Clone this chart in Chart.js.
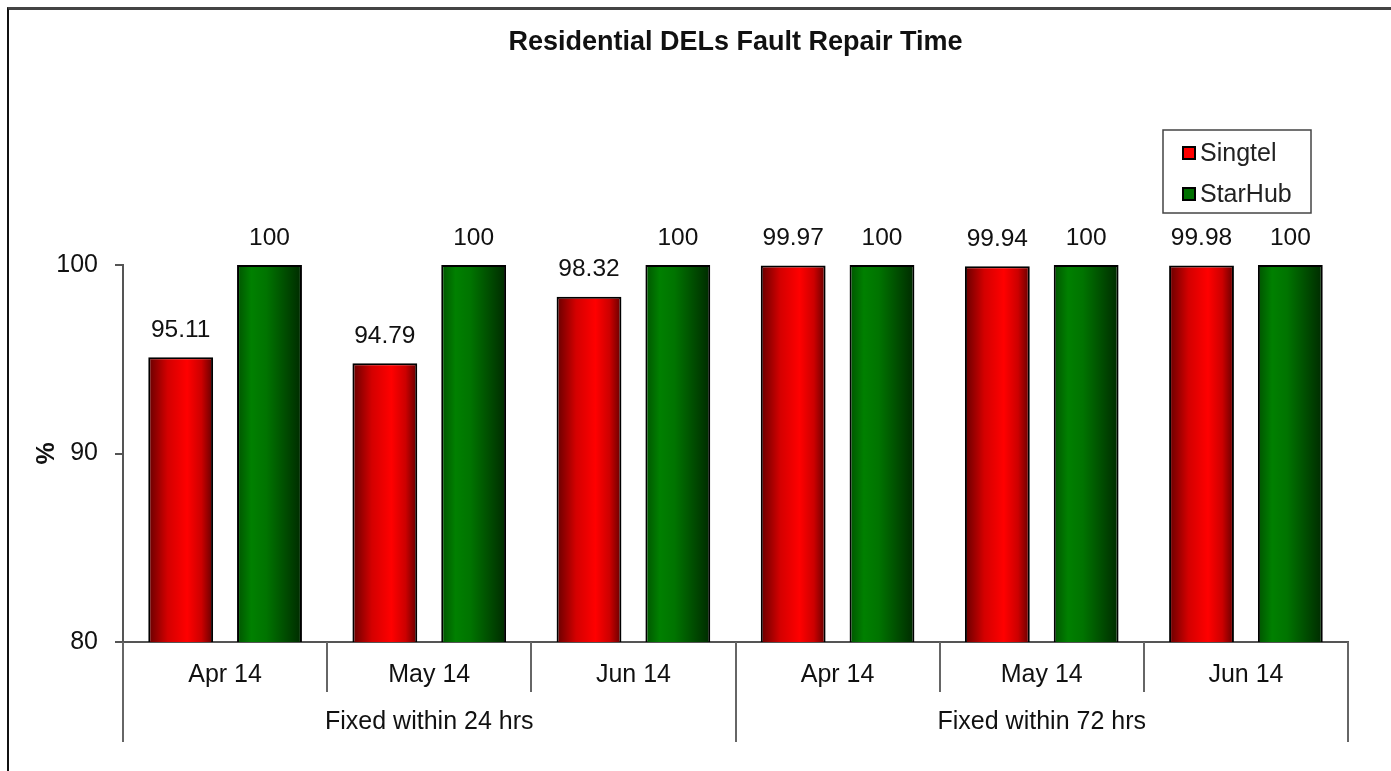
<!DOCTYPE html>
<html>
<head>
<meta charset="utf-8">
<script src="https://cdn.jsdelivr.net/npm/chart.js@4/dist/chart.umd.min.js"></script>
<style>
  body { margin: 0; background: #fff; overflow: hidden; }
  #wrap { position: relative; width: 1391px; height: 771px; }
  #frame { position: absolute; left: 7px; top: 7px; right: -10px; bottom: -10px;
           border-left: 2px solid #111; border-top: 3px solid #444; pointer-events: none; }
</style>
</head>
<body>
<div id="wrap">
  <canvas id="chart"></canvas>
  <div id="frame"></div>
</div>
<script>
// data
const groups = ['Fixed within 24 hrs', 'Fixed within 72 hrs'];
const months = ['Apr 14', 'May 14', 'Jun 14'];
const singtel = [95.11, 94.79, 98.32, 99.97, 99.94, 99.98];
const starhub = [100, 100, 100, 100, 100, 100];
const yTicks = [80, 90, 100];

const labels = groups.flatMap(() => months);
const CAT_PCT = 0.87, BAR_PCT = 0.73;
const FONT = 'Arial, "Liberation Sans", sans-serif';

// horizontal shading like the Excel bars
const shades = {
  red:   [[0, '#660000'], [0.3, '#d40000'], [0.6, '#ff0000'], [0.82, '#cc0000'], [1, '#640000']],
  green: [[0, '#005400'], [0.22, '#008000'], [0.45, '#007400'], [1, '#002a00']]
};

function barFill(name, flat) {
  return ctx => {
    const chart = ctx.chart, x = chart.scales.x;
    if (!chart.chartArea || ctx.dataIndex == null || !x || !isFinite(x.left)) return flat;
    const catW = (x.right - x.left) / labels.length;
    const slot = catW * CAT_PCT / 2;
    const c = x.getPixelForValue(ctx.dataIndex) + (ctx.datasetIndex - 0.5) * slot;
    const w = slot * BAR_PCT;
    const g = chart.ctx.createLinearGradient(c - w / 2, 0, c + w / 2, 0);
    shades[name].forEach(([o, col]) => g.addColorStop(o, col));
    return g;
  };
}

// value labels above bars
const valueLabels = {
  id: 'valueLabels',
  afterDatasetsDraw(chart) {
    const c = chart.ctx;
    c.save();
    c.font = '24.5px ' + FONT;
    c.fillStyle = '#111';
    c.textAlign = 'center';
    c.textBaseline = 'middle';
    chart.data.datasets.forEach((ds, di) => {
      chart.getDatasetMeta(di).data.forEach((bar, i) => {
        c.fillText(String(ds.data[i]), bar.x, bar.y - 27);
      });
    });
    c.restore();
  }
};

// category separators + group labels under the x axis
const groupAxis = {
  id: 'groupAxis',
  afterDraw(chart) {
    const c = chart.ctx, x = chart.scales.x, bottom = chart.chartArea.bottom;
    const catW = (x.right - x.left) / labels.length;
    c.save();
    c.strokeStyle = '#666';
    c.lineWidth = 2;
    for (let i = 0; i <= labels.length; i++) {
      const px = Math.round(x.left + i * catW);
      const long = i % months.length === 0;
      c.beginPath();
      c.moveTo(px, bottom);
      c.lineTo(px, bottom + (long ? 100 : 50));
      c.stroke();
    }
    c.font = '25px ' + FONT;
    c.fillStyle = '#111';
    c.textAlign = 'center';
    c.textBaseline = 'middle';
    groups.forEach((g, gi) => {
      const first = gi * months.length, last = first + months.length - 1;
      const cx = (x.getPixelForValue(first) + x.getPixelForValue(last)) / 2;
      c.fillText(g, cx, bottom + 80);
    });
    c.restore();
  }
};

// legend box floating above the plot
const boxLegend = {
  id: 'boxLegend',
  afterDraw(chart) {
    const c = chart.ctx, a = chart.chartArea;
    const bw = 148, bh = 83;
    const bx = a.right - 37 - bw, by = a.top - 135;
    c.save();
    c.fillStyle = '#fff';
    c.fillRect(bx, by, bw, bh);
    c.strokeStyle = '#444';
    c.lineWidth = 1.5;
    c.strokeRect(bx, by, bw, bh);
    c.font = '25px ' + FONT;
    c.textBaseline = 'middle';
    chart.data.datasets.forEach((ds, i) => {
      const cy = by + 23 + i * 41;
      c.fillStyle = ds.legendColor;
      c.fillRect(bx + 20, cy - 6, 12, 12);
      c.strokeStyle = '#000';
      c.lineWidth = 2;
      c.strokeRect(bx + 20, cy - 6, 12, 12);
      c.fillStyle = '#222';
      c.fillText(ds.label, bx + 37, cy + 1);
    });
    c.restore();
  }
};

new Chart(document.getElementById('chart'), {
  type: 'bar',
  data: {
    labels: labels,
    datasets: [
      { label: 'Singtel', data: singtel, legendColor: '#ff0000',
        backgroundColor: barFill('red', '#ff0000'), borderColor: '#000', borderWidth: 2,
        categoryPercentage: CAT_PCT, barPercentage: BAR_PCT },
      { label: 'StarHub', data: starhub, legendColor: '#007000',
        backgroundColor: barFill('green', '#008000'), borderColor: '#000', borderWidth: 2,
        categoryPercentage: CAT_PCT, barPercentage: BAR_PCT }
    ]
  },
  options: {
    responsive: true, maintainAspectRatio: false, animation: false,
    layout: { padding: { left: 0, right: 43, top: 0, bottom: 0 } },
    plugins: {
      legend: { display: false },
      tooltip: { enabled: false },
      title: {
        display: true, fullSize: false,
        text: 'Residential DELs Fault Repair Time',
        color: '#111',
        font: { family: FONT, size: 27, weight: 'bold' },
        padding: { top: 26, bottom: 206.6 }
      }
    },
    scales: {
      x: {
        grid: { display: false, drawTicks: false },
        border: { display: true, color: '#555', width: 2 },
        ticks: { color: '#111', font: { family: FONT, size: 25 }, padding: 18, maxRotation: 0 },
        afterFit: s => { s.height = 129; }
      },
      y: {
        min: 80, max: 100,
        afterBuildTicks: s => { s.ticks = yTicks.map(v => ({ value: v })); },
        grid: { drawOnChartArea: false, tickLength: 8, color: '#555', lineWidth: 2 },
        border: { color: '#555', width: 2 },
        ticks: { color: '#111', font: { family: FONT, size: 25 }, padding: 17 },
        title: { display: true, text: '%', color: '#111',
                 font: { family: FONT, size: 25, weight: 'bold' }, padding: { top: 32 } },
        afterFit: s => { s.width = 123; }
      }
    }
  },
  plugins: [valueLabels, groupAxis, boxLegend]
});
</script>
</body>
</html>
